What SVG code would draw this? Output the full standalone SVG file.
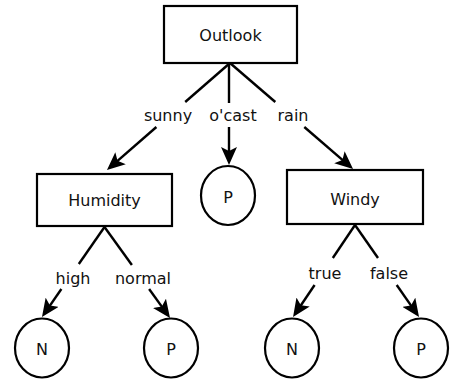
<svg xmlns="http://www.w3.org/2000/svg" width="450" height="380" viewBox="0 0 450 380">
<style>
.box{fill:#fff;stroke:#000;stroke-width:2.2}
.leaf{fill:#fff;stroke:#000;stroke-width:2.2}
.t{font-family:"DejaVu Sans","Liberation Sans",sans-serif;font-size:16px;fill:#111;text-anchor:middle}
.e{stroke:#000;stroke-width:2.4;fill:none}
.a{marker-end:url(#arr)}
</style>
<defs>
<marker id="arr" markerUnits="userSpaceOnUse" viewBox="0 0 18 16" markerWidth="18" markerHeight="16" refX="12" refY="8" orient="auto">
<path d="M0,0 L18,8 L0,16 L4,8 z" fill="#000"/>
</marker>
</defs>
<rect width="450" height="380" fill="#fff"/>
<g id="connectors">
<line class="e" x1="230" y1="63" x2="185.2" y2="102"/>
<line class="e a" x1="156.4" y1="127" x2="111.5" y2="166.1"/>
<text class="t" x="168" y="121">sunny</text>
<line class="e" x1="229" y1="63" x2="229" y2="103"/>
<line class="e a" x1="229" y1="127" x2="229" y2="159"/>
<text class="t" x="233" y="121">o'cast</text>
<line class="e" x1="230" y1="63" x2="275.3" y2="102"/>
<line class="e a" x1="304.3" y1="127" x2="348.5" y2="165.1"/>
<text class="t" x="293" y="121">rain</text>
<line class="e" x1="104.5" y1="227" x2="78.8" y2="264"/>
<line class="e a" x1="61.4" y1="289" x2="45.4" y2="312.1"/>
<text class="t" x="73" y="284">high</text>
<line class="e" x1="104.5" y1="227" x2="131.9" y2="265"/>
<line class="e a" x1="149.1" y1="289" x2="166.5" y2="313.1"/>
<text class="t" x="143" y="284">normal</text>
<line class="e" x1="355" y1="225" x2="332.8" y2="258"/>
<line class="e a" x1="314.6" y1="285" x2="296.4" y2="312"/>
<text class="t" x="325" y="279">true</text>
<line class="e" x1="355" y1="225" x2="378" y2="258"/>
<line class="e a" x1="396.7" y1="285" x2="415.6" y2="312.1"/>
<text class="t" x="389" y="279">false</text>
</g>
<g id="outlook">
<rect class="box" x="164" y="6" width="133" height="57"/>
<text class="t" x="230.5" y="41">Outlook</text>
</g>
<g id="humidity">
<rect class="box" x="37" y="174" width="135" height="52"/>
<text class="t" x="104.5" y="206">Humidity</text>
</g>
<g id="windy">
<rect class="box" x="287" y="170" width="136" height="54"/>
<text class="t" x="355" y="205">Windy</text>
</g>
<g id="ocast-p">
<ellipse class="leaf" cx="228" cy="195.5" rx="27" ry="29.5"/>
<text class="t" x="228" y="203">P</text>
</g>
<g id="high-n">
<ellipse class="leaf" cx="42" cy="348" rx="27" ry="29.5"/>
<text class="t" x="42" y="355">N</text>
</g>
<g id="normal-p">
<ellipse class="leaf" cx="171" cy="348" rx="27" ry="29.5"/>
<text class="t" x="171" y="355">P</text>
</g>
<g id="true-n">
<ellipse class="leaf" cx="292" cy="348" rx="27" ry="29.5"/>
<text class="t" x="292" y="355">N</text>
</g>
<g id="false-p">
<ellipse class="leaf" cx="421" cy="348" rx="27" ry="29.5"/>
<text class="t" x="421" y="355">P</text>
</g>
</svg>
